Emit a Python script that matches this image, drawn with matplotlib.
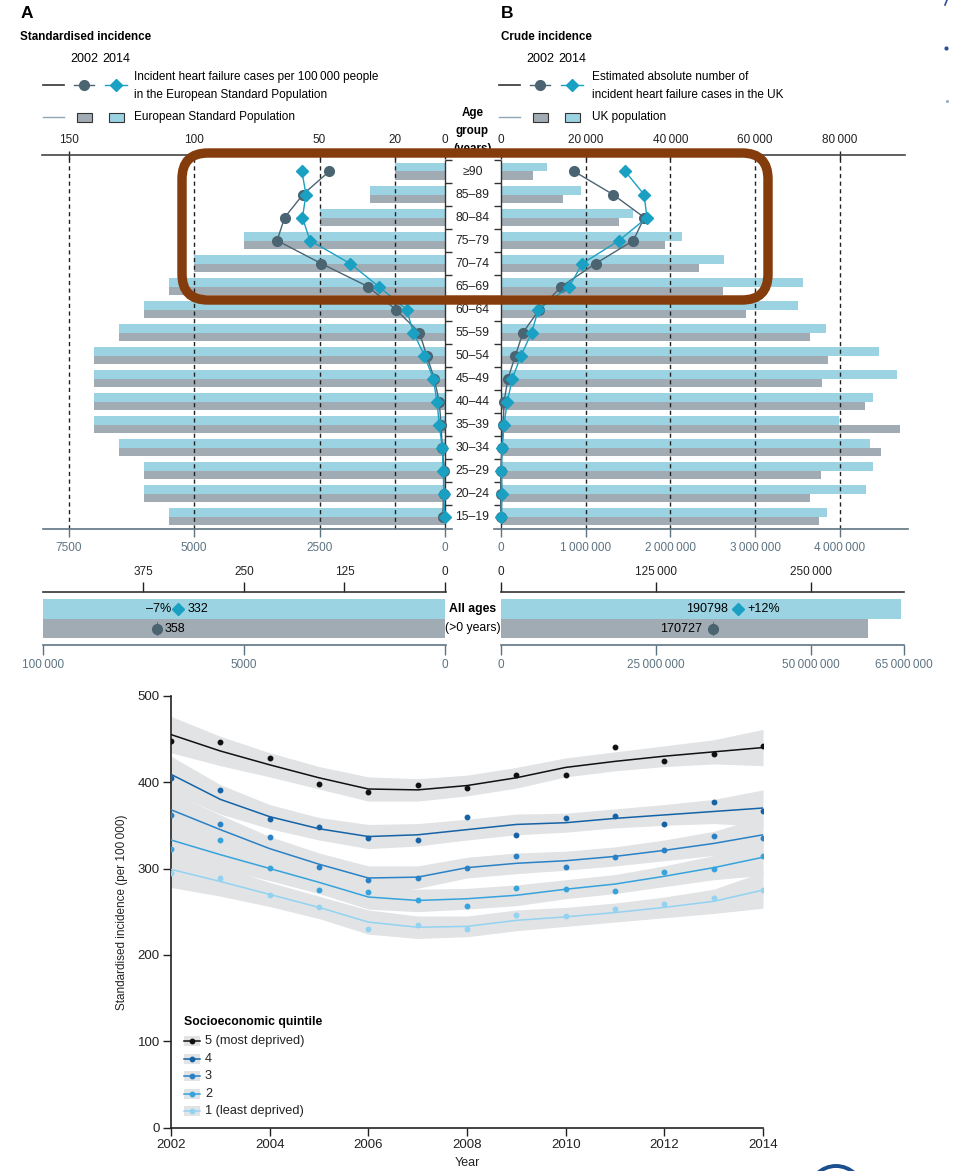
import numpy as np
import matplotlib.pyplot as plt
from matplotlib.lines import Line2D
from matplotlib.patches import Rectangle, FancyBboxPatch, Circle
from matplotlib.transforms import IdentityTransform

plt.rcParams['font.family'] = ['Liberation Sans', 'DejaVu Sans']

# ---- data: incidence by age group ----
age_groups = ['15–19', '20–24', '25–29', '30–34', '35–39', '40–44', '45–49', '50–54',
              '55–59', '60–64', '65–69', '70–74', '75–79', '80–84', '85–89', '≥90']
esp_pop = [5500, 6000, 6000, 6500, 7000, 7000, 7000, 7000,
           6500, 6000, 5500, 5000, 4000, 2500, 1500, 1000]
std_inc_2002 = [0.9, 0.6, 0.3, 1.1, 1.6, 2.3, 4.3, 7.3,
                10.2, 19.6, 30.7, 49.3, 66.9, 63.9, 56.6, 46.2]
std_inc_2014 = [0.1, 0.5, 0.7, 1.1, 2.3, 3.2, 4.7, 8.2,
                12.6, 15.3, 26.4, 37.8, 53.8, 56.8, 55.4, 57.0]
uk_pop_2002 = [3.75e6, 3.65e6, 3.78e6, 4.48e6, 4.71e6, 4.30e6, 3.79e6, 3.86e6,
               3.65e6, 2.89e6, 2.62e6, 2.34e6, 1.94e6, 1.40e6, 0.735e6, 0.381e6]
uk_pop_2014 = [3.85e6, 4.31e6, 4.39e6, 4.36e6, 3.99e6, 4.39e6, 4.67e6, 4.46e6,
               3.84e6, 3.51e6, 3.57e6, 2.63e6, 2.14e6, 1.56e6, 0.947e6, 0.546e6]
crude_2002 = [0, 0, 0, 300, 620, 780, 1720, 3450,
              5260, 9100, 14300, 22400, 31280, 33870, 26490, 17360]
crude_2014 = [100, 300, 150, 360, 780, 1560, 2740, 4790,
              7300, 8870, 16180, 19250, 27900, 34500, 33800, 29390]

# all ages
esp_total = 100000
std_all_2002, std_all_2014 = 358, 332
uk_total_2002, uk_total_2014 = 59.2e6, 64.5e6
crude_all_2002, crude_all_2014 = 170727, 190798

# ---- data: socioeconomic quintiles ----
years = np.arange(2002, 2015)
quintile_labels = ['5 (most deprived)', '4', '3', '2', '1 (least deprived)']
obs_q5 = [447, 446, 428, 398, 388, 397, 393, 408, 408, 441, 425, 432, 442]
obs_q4 = [405, 391, 357, 348, 335, 333, 360, 339, 358, 361, 352, 377, 366]
obs_q3 = [362, 352, 336, 302, 287, 289, 301, 314, 302, 313, 321, 338, 335]
obs_q2 = [323, 333, 301, 275, 273, 263, 257, 278, 276, 274, 296, 300, 315]
obs_q1 = [295, 289, 269, 256, 230, 235, 230, 246, 245, 253, 259, 266, 275]
fit_q5 = [455, 436, 420, 405, 392, 391, 396, 405, 417, 424, 430, 435, 440]
fit_q4 = [409, 380, 360, 346, 337, 339, 345, 351, 353, 358, 362, 366, 370]
fit_q3 = [368, 345, 323, 305, 289, 290, 301, 306, 309, 314, 321, 329, 339]
fit_q2 = [333, 316, 300, 284, 267, 263, 265, 269, 276, 282, 291, 301, 313]
fit_q1 = [299, 285, 270, 255, 238, 232, 233, 240, 244, 249, 255, 262, 275]
ci_half = [21, 17, 14, 13, 14, 13, 12, 12, 11, 11, 12, 14, 21]

c_blue = '#9bd3e3'
c_gray = '#a1abb3'
c_2002 = '#4b6472'
c_2014 = '#1aa0c2'
c_axis = '#5d7482'
c_box = '#843c0c'
q_colors = ['#111111', '#1563a6', '#2a81c5', '#36a3dd', '#93d3f1']

FS = 8.5      # small text in panels A/B
FB = 8.4      # bold headers

W, H = 956, 1171
fig = plt.figure(figsize=(W / 100, H / 100), dpi=100)


def add_ax(x0, y0, x1, y1):
    return fig.add_axes([x0 / W, 1 - y1 / H, (x1 - x0) / W, (y1 - y0) / H])


def ftext(x, y, s, **kw):
    kw.setdefault('va', 'center')
    return fig.text(x / W, 1 - y / H, s, **kw)


def fline(xs, ys, **kw):
    fig.add_artist(Line2D([x / W for x in xs], [1 - y / H for y in ys],
                          transform=fig.transFigure, **kw))


def frect(x0, y0, x1, y1, **kw):
    fig.add_artist(Rectangle((x0 / W, 1 - y1 / H), (x1 - x0) / W, (y1 - y0) / H,
                             transform=fig.transFigure, **kw))


def fmt(v):
    return f'{int(round(v)):,}'.replace(',', '\u2009')


idx = np.arange(len(age_groups))

# ================= panel A =================
ax_a = add_ax(43, 154.7, 452, 529.3)
ax_a.barh(idx + 0.19, esp_pop, height=0.38, color=c_blue, zorder=1)
ax_a.barh(idx - 0.19, esp_pop, height=0.38, color=c_gray, zorder=1)
for v in [7500, 5000, 2500, 1000]:
    ax_a.axvline(v, color='#222222', lw=1, ls=(0, (3, 2.5)), zorder=2)
ax_a.vlines(0, -0.55, 15.5, color='#333333', lw=1, zorder=2)
ax_a.hlines(idx + 0.5, 0, -139, color='#333333', lw=1, clip_on=False)
ax_a.plot(np.array(std_inc_2002) * 50, idx, '-o', color=c_2002, ms=7, lw=1, zorder=4)
ax_a.plot(np.array(std_inc_2014) * 50, idx, '-D', color=c_2014, ms=6.5, lw=1, zorder=5)
ax_a.set_xlim(8008, -139)
ax_a.set_ylim(-0.548, 15.73)
ax_a.set_yticks([])
ax_a.set_xticks([7500, 5000, 2500, 0])
ax_a.set_xticklabels(['7500', '5000', '2500', '0'])
for s in ['left', 'right', 'top']:
    ax_a.spines[s].set_visible(False)
ax_a.spines['bottom'].set_color(c_axis)
ax_a.spines['bottom'].set_linewidth(1.2)
ax_a.tick_params(axis='x', colors=c_axis, labelcolor=c_axis, length=6, width=1,
                 labelsize=FS, pad=3)
sec_a = ax_a.secondary_xaxis('top', functions=(lambda x: x / 50, lambda x: x * 50))
sec_a.set_xticks([150, 100, 50, 20, 0])
sec_a.spines['top'].set_visible(False)
sec_a.tick_params(direction='inout', length=6, width=1, labelsize=FS, pad=3, colors='#222222')

# ================= panel B =================
ax_b = add_ax(494, 154.7, 908, 529.3)
ax_b.barh(idx + 0.19, uk_pop_2014, height=0.38, color=c_blue, zorder=1)
ax_b.barh(idx - 0.19, uk_pop_2002, height=0.38, color=c_gray, zorder=1)
for v in [1e6, 2e6, 3e6, 4e6]:
    ax_b.axvline(v, color='#222222', lw=1, ls=(0, (3, 2.5)), zorder=2)
ax_b.vlines(0, -0.55, 15.5, color='#333333', lw=1, zorder=2)
ax_b.hlines(idx + 0.5, 0, -79000, color='#333333', lw=1, clip_on=False)
ax_b.plot(np.array(crude_2002) * 50, idx, '-o', color=c_2002, ms=7, lw=1, zorder=4)
ax_b.plot(np.array(crude_2014) * 50, idx, '-D', color=c_2014, ms=6.5, lw=1, zorder=5)
ax_b.set_xlim(-79000, 4803000)
ax_b.set_ylim(-0.548, 15.73)
ax_b.set_yticks([])
ax_b.set_xticks([0, 1e6, 2e6, 3e6, 4e6])
ax_b.set_xticklabels([fmt(v) for v in [0, 1e6, 2e6, 3e6, 4e6]])
for s in ['left', 'right', 'top']:
    ax_b.spines[s].set_visible(False)
ax_b.spines['bottom'].set_color(c_axis)
ax_b.spines['bottom'].set_linewidth(1.2)
ax_b.tick_params(axis='x', colors=c_axis, labelcolor=c_axis, length=6, width=1,
                 labelsize=FS, pad=3)
sec_b = ax_b.secondary_xaxis('top', functions=(lambda x: x / 50, lambda x: x * 50))
sec_b.set_xticks([0, 20000, 40000, 60000, 80000])
sec_b.set_xticklabels([fmt(v) for v in [0, 20000, 40000, 60000, 80000]])
sec_b.spines['top'].set_visible(False)
sec_b.tick_params(direction='inout', length=6, width=1, labelsize=FS, pad=3, colors='#222222')

fline([42, 905], [155, 155], color='#444444', lw=1.2)

# age labels
for i, lab in enumerate(age_groups):
    ftext(472.5, 516.7 - 23.01 * i, lab, ha='center', fontsize=FS + 0.3, color='#222222')
ftext(472.5, 113, 'Age', ha='center', fontsize=FB, fontweight='bold')
ftext(472.5, 131, 'group', ha='center', fontsize=FB, fontweight='bold')
ftext(472.5, 149, '(years)', ha='center', fontsize=FB, fontweight='bold')

# ================= all ages =================
ax_c = add_ax(43, 592, 446, 645)
ax_c.barh(0.68, esp_total, height=0.38, color=c_blue)
ax_c.barh(0.31, esp_total, height=0.36, color=c_gray)
ax_c.plot([std_all_2014 * 20] * 2, [0.56, 0.80], color=c_2014, lw=0.8, zorder=3)
ax_c.plot([std_all_2002 * 20] * 2, [0.19, 0.43], color='#a05a7a', lw=0.8, zorder=3)
ax_c.plot(std_all_2014 * 20, 0.68, 'D', color=c_2014, ms=6.5, zorder=4)
ax_c.plot(std_all_2002 * 20, 0.31, 'o', color=c_2002, ms=7, zorder=4)
pct_std = round((std_all_2014 - std_all_2002) / std_all_2002 * 100)
ax_c.annotate(f'–{abs(pct_std)}%', (std_all_2014 * 20, 0.68), xytext=(-5, 0),
              textcoords='offset points', ha='right', va='center', fontsize=FS + 0.5)
ax_c.annotate(str(std_all_2014), (std_all_2014 * 20, 0.68), xytext=(7, 0),
              textcoords='offset points', ha='left', va='center', fontsize=FS + 0.5)
ax_c.annotate(str(std_all_2002), (std_all_2002 * 20, 0.31), xytext=(5, 0),
              textcoords='offset points', ha='left', va='center', fontsize=FS + 0.5)
ax_c.set_xlim(10000, -24.9)
ax_c.set_ylim(0, 1)
ax_c.set_yticks([])
ax_c.set_xticks([10000, 5000, 0])
ax_c.set_xticklabels(['100' + '\u2009' + '000', '5000', '0'])
for s in ['left', 'right', 'top']:
    ax_c.spines[s].set_visible(False)
ax_c.spines['bottom'].set_color(c_axis)
ax_c.spines['bottom'].set_linewidth(1.2)
ax_c.tick_params(axis='x', colors=c_axis, labelcolor=c_axis, length=7, width=1,
                 labelsize=FS, pad=3)
sec_c = ax_c.secondary_xaxis('top', functions=(lambda x: x / 20, lambda x: x * 20))
sec_c.set_xticks([375, 250, 125, 0])
sec_c.spines['top'].set_linewidth(1.2)
sec_c.spines['top'].set_color('#333333')
sec_c.tick_params(length=7, width=1, labelsize=FS, pad=3, colors='#222222')

ax_d = add_ax(500.7, 592, 904.3, 645)
ax_d.barh(0.68, uk_total_2014, height=0.38, color=c_blue)
ax_d.barh(0.31, uk_total_2002, height=0.36, color=c_gray)
ax_d.plot([crude_all_2014 * 200] * 2, [0.56, 0.80], color=c_2014, lw=0.8, zorder=3)
ax_d.plot([crude_all_2002 * 200] * 2, [0.19, 0.43], color='#a05a7a', lw=0.8, zorder=3)
ax_d.plot(crude_all_2014 * 200, 0.68, 'D', color=c_2014, ms=6.5, zorder=4)
ax_d.plot(crude_all_2002 * 200, 0.31, 'o', color=c_2002, ms=7, zorder=4)
pct_crude = round((crude_all_2014 - crude_all_2002) / crude_all_2002 * 100)
ax_d.annotate(str(crude_all_2014), (crude_all_2014 * 200, 0.68), xytext=(-7, 0),
              textcoords='offset points', ha='right', va='center', fontsize=FS + 0.5)
ax_d.annotate(f'+{pct_crude}%', (crude_all_2014 * 200, 0.68), xytext=(7, 0),
              textcoords='offset points', ha='left', va='center', fontsize=FS + 0.5)
ax_d.annotate(str(crude_all_2002), (crude_all_2002 * 200, 0.31), xytext=(-7.5, 0),
              textcoords='offset points', ha='right', va='center', fontsize=FS + 0.5)
ax_d.set_xlim(0, 65e6)
ax_d.set_ylim(0, 1)
ax_d.set_yticks([])
ax_d.set_xticks([0, 25e6, 50e6, 65e6])
ax_d.set_xticklabels([fmt(v) for v in [0, 25e6, 50e6, 65e6]])
for s in ['left', 'right', 'top']:
    ax_d.spines[s].set_visible(False)
ax_d.spines['bottom'].set_color(c_axis)
ax_d.spines['bottom'].set_linewidth(1.2)
ax_d.tick_params(axis='x', colors=c_axis, labelcolor=c_axis, length=7, width=1,
                 labelsize=FS, pad=3)
sec_d = ax_d.secondary_xaxis('top', functions=(lambda x: x / 200, lambda x: x * 200))
sec_d.set_xticks([0, 125000, 250000])
sec_d.set_xticklabels([fmt(v) for v in [0, 125000, 250000]])
sec_d.spines['top'].set_linewidth(1.2)
sec_d.spines['top'].set_color('#333333')
sec_d.tick_params(length=7, width=1, labelsize=FS, pad=3, colors='#222222')

ftext(472.5, 609, 'All ages', ha='center', fontsize=FB + 0.4, fontweight='bold')
ftext(472.5, 628, '(>0 years)', ha='center', fontsize=FS + 0.3)

# ================= headers =================
ftext(21, 14, 'A', fontsize=12.5, fontweight='bold')
ftext(20, 37, 'Standardised incidence', fontsize=FB, fontweight='bold')
ftext(501, 14, 'B', fontsize=12.5, fontweight='bold')
ftext(501, 37, 'Crude incidence', fontsize=FB, fontweight='bold')

for x0, xc1, xc2, tx, row1, row2 in [
        (43, 84, 116, 134, ['Incident heart failure cases per 100\u2009000 people',
                            'in the European Standard Population'],
         'European Standard Population'),
        (499, 540, 572, 592, ['Estimated absolute number of',
                              'incident heart failure cases in the UK'],
         'UK population')]:
    ftext(xc1, 59.5, '2002', ha='center', fontsize=FS + 0.5)
    ftext(xc2, 59.5, '2014', ha='center', fontsize=FS + 0.5)
    fline([x0, x0 + 21], [85, 85], color='#333333', lw=1.2)
    fline([xc1 - 10, xc1 + 10], [85, 85], color=c_2002, lw=1)
    fline([xc1], [85], marker='o', ms=7, color=c_2002, lw=0)
    fline([xc2 - 11, xc2 + 11], [85, 85], color=c_2014, lw=1)
    fline([xc2], [85], marker='D', ms=6.5, color=c_2014, lw=0)
    ftext(tx, 77, row1[0], fontsize=FS)
    ftext(tx, 95, row1[1], fontsize=FS)
    fline([x0, x0 + 21], [117, 117], color='#8fa6b3', lw=1)
    frect(xc1 - 7.5, 112.5, xc1 + 7.5, 122, facecolor=c_gray, edgecolor='#333333', lw=0.8)
    frect(xc2 - 7.5, 112.5, xc2 + 7.5, 122, facecolor=c_blue, edgecolor='#333333', lw=0.8)
    ftext(tx, 117, row2, fontsize=FS)

# brown highlight box
box = FancyBboxPatch((182, H - 300), 586, 147, boxstyle='round,pad=0,rounding_size=26',
                     transform=IdentityTransform(), fill=False, edgecolor=c_box, lw=6.8,
                     zorder=20)
fig.add_artist(box)

# ================= quintile trends =================
ax_e = add_ax(171, 695.7, 763, 1127.7)
obs = [obs_q5, obs_q4, obs_q3, obs_q2, obs_q1]
fits = [fit_q5, fit_q4, fit_q3, fit_q2, fit_q1]
for k in range(5):
    f = np.array(fits[k])
    ax_e.fill_between(years, f - np.array(ci_half), f + np.array(ci_half),
                      color='#e1e3e5', lw=0, zorder=1)
for k in range(5):
    ax_e.plot(years, fits[k], color=q_colors[k], lw=1.1, zorder=3)
    ax_e.plot(years, obs[k], 'o', color=q_colors[k], ms=3.2, zorder=4)
ax_e.set_xlim(2002, 2014)
ax_e.set_ylim(0, 500)
ax_e.set_xticks(np.arange(2002, 2015, 2))
ax_e.set_yticks(np.arange(0, 501, 100))
for s in ['right', 'top']:
    ax_e.spines[s].set_visible(False)
for s in ['left', 'bottom']:
    ax_e.spines[s].set_color('#222222')
    ax_e.spines[s].set_linewidth(1.2)
ax_e.tick_params(length=6, width=1, labelsize=9.5, pad=2, colors='#222222')
ftext(122, 912, 'Standardised incidence (per 100\u2009000)', ha='center', rotation=90,
      fontsize=8.5, color='#222222')
ftext(467, 1163, 'Year', ha='center', fontsize=9, color='#222222')

ftext(184, 1022, 'Socioeconomic quintile', fontsize=8.8, fontweight='bold')
for k, lab in enumerate(quintile_labels):
    yy = 1041 + 17.6 * k
    frect(184, yy - 5, 200, yy + 5, facecolor='#e1e3e5', edgecolor='none')
    fline([184, 200], [yy, yy], color=q_colors[k], lw=1.1)
    fline([192], [yy], marker='o', ms=3.2, color=q_colors[k], lw=0)
    ftext(205, yy, lab, fontsize=9.2, color='#222222')

# stray marks at edge and logo fragment
fline([945, 947], [5, 0], color='#2a4f9a', lw=1.2)
fline([946], [48], marker='o', ms=2, color='#2a4f9a', lw=0)
fline([947], [101], marker='o', ms=1.2, color='#9aaacc', lw=0)
logo = Circle((836, H - 1193), 27, transform=IdentityTransform(), fill=False,
              edgecolor='#1b4f8f', lw=2.8)
fig.add_artist(logo)

fig.savefig('out.png', dpi=100)
